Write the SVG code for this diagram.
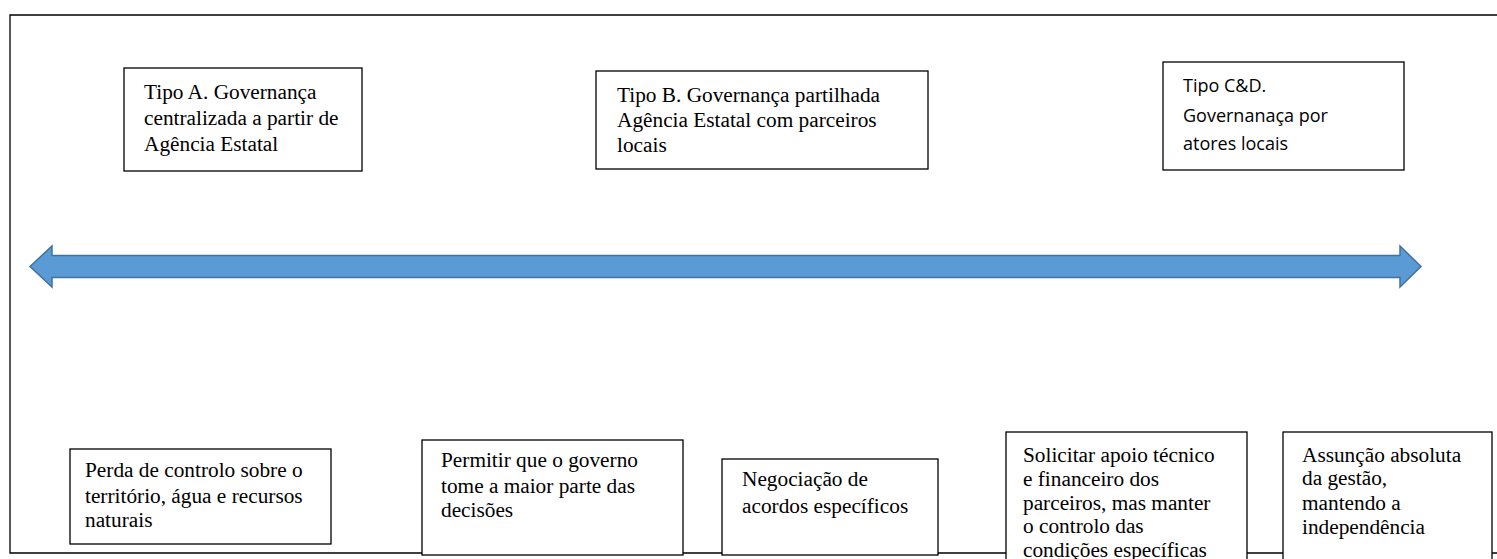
<svg xmlns="http://www.w3.org/2000/svg" width="1497" height="559" viewBox="0 0 1497 559">
<style>
.box{fill:#fff;stroke:#000;stroke-width:1.3}
.t{font-family:'Liberation Serif','Times New Roman','DejaVu Serif',serif;font-size:21.3px;fill:#000}
.s{font-family:'Open Sans','Liberation Sans',sans-serif;font-size:18px;fill:#000}
.frame{fill:none;stroke:#000;stroke-width:1.3}
</style>
<rect width="1497" height="559" fill="#fff"/>
<g id="frame"><path class="frame" d="M1497 15 H10 V553 H1497"/></g>
<g id="connectors">
<path d="M30 266.5 L52 246 V255.5 H1400 V246 L1421 266.5 L1400 287 V277.5 H52 V287 Z" fill="#5B9BD5" stroke="#41719C" stroke-width="1.5" stroke-linejoin="miter"/>
</g>
<g id="nodeA"><rect class="box" x="124" y="68" width="238" height="103"/>
<text class="t"><tspan x="144" y="99">Tipo A. Governança</tspan><tspan x="144" y="125">centralizada a partir de</tspan><tspan x="144" y="151">Agência Estatal</tspan></text></g>
<g id="nodeB"><rect class="box" x="596" y="71" width="332" height="98"/>
<text class="t"><tspan x="617" y="102">Tipo B. Governança partilhada</tspan><tspan x="617" y="127">Agência Estatal com parceiros</tspan><tspan x="617" y="152">locais</tspan></text></g>
<g id="nodeCD"><rect class="box" x="1163" y="62" width="241" height="108"/>
<text class="s"><tspan x="1183" y="92">Tipo C&amp;D.</tspan><tspan x="1183" y="122">Governanaça por</tspan><tspan x="1183" y="150">atores locais</tspan></text></g>
<g id="node1"><rect class="box" x="70" y="449" width="261" height="95"/>
<text class="t"><tspan x="85" y="477">Perda de controlo sobre o</tspan><tspan x="85" y="503">território, água e recursos</tspan><tspan x="85" y="527">naturais</tspan></text></g>
<g id="node2"><rect class="box" x="422" y="440" width="261" height="115"/>
<text class="t"><tspan x="441" y="467">Permitir que o governo</tspan><tspan x="441" y="493">tome a maior parte das</tspan><tspan x="441" y="517">decisões</tspan></text></g>
<g id="node3"><rect class="box" x="722" y="459" width="216" height="96"/>
<text class="t"><tspan x="742" y="486">Negociação de</tspan><tspan x="742" y="513">acordos específicos</tspan></text></g>
<g id="node4"><rect class="box" x="1006" y="432" width="241" height="140"/>
<text class="t"><tspan x="1023" y="462">Solicitar apoio técnico</tspan><tspan x="1023" y="486">e financeiro dos</tspan><tspan x="1023" y="510">parceiros, mas manter</tspan><tspan x="1023" y="533">o controlo das</tspan><tspan x="1023" y="557">condições específicas</tspan></text></g>
<g id="node5"><rect class="box" x="1283" y="432" width="209" height="140"/>
<text class="t"><tspan x="1302" y="462">Assunção absoluta</tspan><tspan x="1302" y="485">da gestão,</tspan><tspan x="1302" y="510">mantendo a</tspan><tspan x="1302" y="534">independência</tspan></text></g>
</svg>
